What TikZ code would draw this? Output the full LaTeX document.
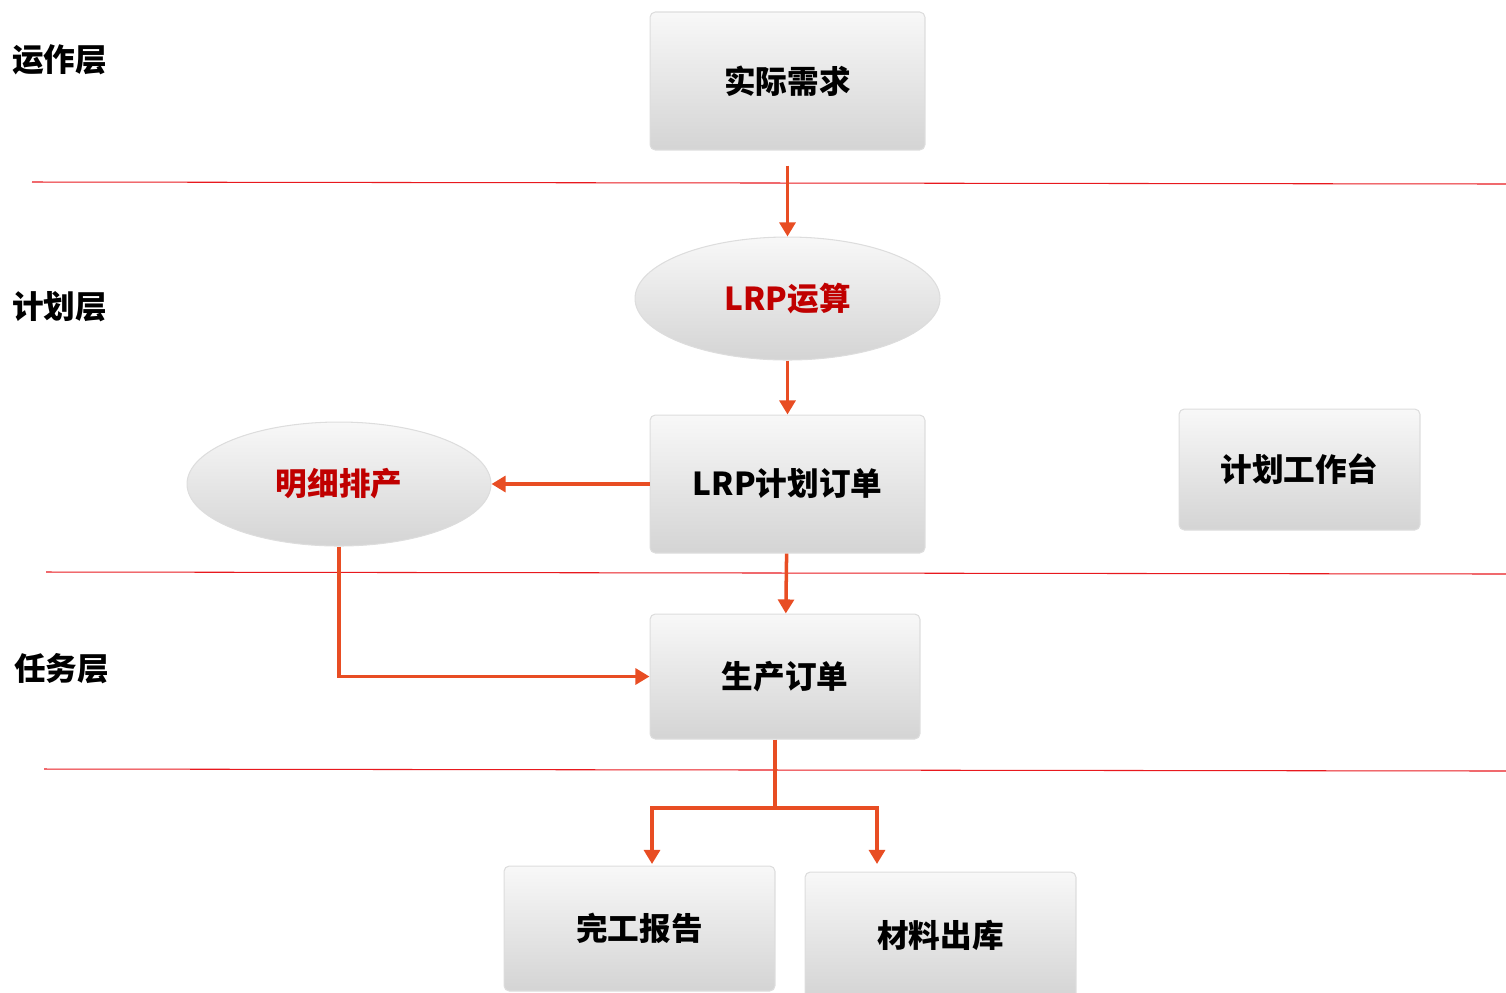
\documentclass[tikz,border=0pt]{standalone}
\usepackage{fontspec}
\setmainfont{Noto Sans CJK SC}
\usetikzlibrary{arrows.meta,shapes.geometric,positioning}
\definecolor{flow}{HTML}{E84D23}
\definecolor{rule}{HTML}{E8191E}
\definecolor{boxedge}{HTML}{DDDDDD}
\definecolor{boxtop}{HTML}{F8F8F8}
\definecolor{boxbot}{HTML}{D4D4D4}
\definecolor{hotred}{HTML}{C00000}
\tikzset{>={Triangle[length=8pt,width=9pt]},
  every node/.style={font=\fontsize{18pt}{20pt}\selectfont\bfseries},
  card/.style={rectangle,rounded corners=3pt,draw=boxedge,line width=.6pt,
    top color=boxtop,bottom color=boxbot,inner sep=0pt},
  oval/.style={ellipse,draw=boxedge,line width=.6pt,
    top color=boxtop,bottom color=boxbot,inner sep=0pt,text=hotred},
  flowline/.style={->,draw=flow,line width=2pt},
  layerline/.style={draw=rule,line width=.6pt},
  layer/.style={anchor=west,inner sep=0pt}}

\begin{document}
\begin{tikzpicture}[x=0.02cm,y=-0.02cm]

\clip (0,0) rectangle (1506,992);
\draw[layerline] (32,182)--(1506,184);\draw[layerline] (46,572)--(1506,574);\draw[layerline] (44,769)--(1506,771);
\node[layer] (opLayer) at (12,60) {运作层};
\node[layer] (planLayer) at (12,307) {计划层};
\node[layer] (taskLayer) at (14,669) {任务层};

\node[card,minimum width=5.5cm,minimum height=2.76cm] (need) at (787.5,81) {实际需求};
\node[oval,minimum width=6.1cm,minimum height=2.46cm] (lrp) at (787.5,298.5) {LRP运算};
\node[card,minimum width=5.5cm,minimum height=2.76cm] (plan) at (787.5,484) {LRP计划订单};
\node[card,minimum width=4.82cm,minimum height=2.42cm] (bench) at (1299.5,469.5) {计划工作台};
\node[oval,minimum width=6.08cm,minimum height=2.48cm] (detail) at (339,484) {明细排产};
\node[card,minimum width=5.4cm,minimum height=2.5cm] (mo) at (785,676.5) {生产订单};
\node[card,minimum width=5.42cm,minimum height=2.5cm] (done) at (639.5,928.5) {完工报告};
\node[card,minimum width=5.42cm,minimum height=2.52cm] (issue) at (940.5,935) {材料出库};

\draw[flowline,shorten <=.3cm] (need)--(lrp);\draw[flowline] (lrp)--(plan);
\draw[flowline] (plan)--(detail);\draw[flowline] (plan)--(mo);
\draw[flowline] (detail.south)|-(mo.west);
\coordinate (fork) at (775,808);\coordinate (doneIn) at (652,864);\coordinate (issueIn) at (877,864);
\draw[flowline] (mo.south-|fork)--(fork)-|(doneIn);\draw[flowline] (fork)-|(issueIn);
\end{tikzpicture}
\end{document}
